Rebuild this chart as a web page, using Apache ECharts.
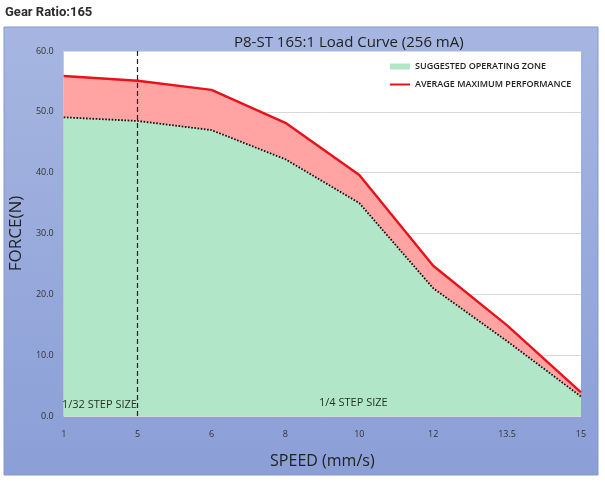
<!DOCTYPE html>
<html>
<head>
<meta charset="utf-8">
<script src="https://cdn.jsdelivr.net/npm/echarts@6/dist/echarts.min.js"></script>
<style>
html,body{margin:0;padding:0;background:#fff;}
#chart{width:605px;height:483px;}
</style>
</head>
<body>
<div id="chart"></div>
<script>
const categories = ['1','5','6','8','10','12','13.5','15'];
const maxPerformance = [55.9, 55.1, 53.6, 48.2, 39.6, 24.7, 14.9, 3.9];
const operatingZone = [49.1, 48.5, 47.0, 42.2, 35.0, 21.0, 12.3, 3.2];
const yTicks = [0, 10, 20, 30, 40, 50, 60];
const stepChangeAt = '5';

const chart = echarts.init(document.getElementById('chart'), null, {renderer: 'canvas'});
const font = "'Open Sans', 'Noto Sans', sans-serif";

chart.setOption({
  animation: false,
  backgroundColor: '#fff',
  graphic: [
    {type: 'rect', z: -10, shape: {x: 4, y: 27, width: 594, height: 448},
     style: {fill: new echarts.graphic.LinearGradient(0, 0, 0, 1, [
       {offset: 0, color: '#a6b6e1'}, {offset: 1, color: '#8b9fd7'}]),
       stroke: '#8597cf', lineWidth: 1}},
    {type: 'text', left: 5, top: 6, z: 10,
     style: {text: 'Gear Ratio:165', font: "bold 13px Roboto, 'Noto Sans', sans-serif", fill: '#2b2b2b'}},
    {type: 'text', left: 62, top: 399, z: 10,
     style: {text: '1/32 STEP SIZE', font: "11px " + font, fill: '#253525'}},
    {type: 'text', left: 319, top: 397, z: 10,
     style: {text: '1/4 STEP SIZE', font: "11px " + font, fill: '#253525'}}
  ],
  title: {
    text: 'P8-ST 165:1 Load Curve (256 mA)',
    left: 229, top: 30,
    textStyle: {fontFamily: font, fontSize: 15, fontWeight: 'normal', color: '#222'}
  },
  legend: {
    orient: 'vertical', left: 389, top: 62, padding: 0,
    itemWidth: 20, itemHeight: 6, itemGap: 9,
    textStyle: {fontFamily: font, fontSize: 9, fontWeight: 600, color: '#222'},
    data: [
      {name: 'SUGGESTED OPERATING ZONE', icon: 'rect', itemStyle: {color: '#b1e6c9', borderWidth: 0}},
      {name: 'AVERAGE MAXIMUM PERFORMANCE', itemStyle: {opacity: 0}}
    ]
  },
  grid: {left: 60, right: 24, top: 51, bottom: 67, show: true, backgroundColor: '#fff', borderWidth: 0},
  xAxis: {
    type: 'category', data: categories, boundaryGap: false,
    axisLine: {show: false}, axisTick: {show: false},
    axisLabel: {fontFamily: font, fontSize: 9, color: '#333', margin: 14},
    name: 'SPEED (mm/s)', nameLocation: 'middle', nameGap: 37,
    nameTextStyle: {fontFamily: font, fontSize: 16, color: '#222'},
    splitLine: {show: false}
  },
  yAxis: {
    type: 'value', min: yTicks[0], max: yTicks[yTicks.length - 1], interval: 10,
    axisLine: {show: false}, axisTick: {show: false},
    axisLabel: {fontFamily: font, fontSize: 9, color: '#333', margin: 10,
      formatter: v => v.toFixed(1)},
    splitLine: {lineStyle: {color: '#d9d9d9', width: 1}},
    name: 'FORCE(N)', nameLocation: 'middle', nameGap: 33,
    nameTextStyle: {fontFamily: font, fontSize: 17, color: '#222'}
  },
  series: [
    {
      name: 'AVERAGE MAXIMUM PERFORMANCE', type: 'line', data: maxPerformance,
      symbol: 'none', lineStyle: {color: '#e8121b', width: 2.4},
      itemStyle: {color: '#e8121b'},
      areaStyle: {color: '#ffa3a3', opacity: 1},
      z: 2
    },
    {
      name: 'SUGGESTED OPERATING ZONE', type: 'line', data: operatingZone,
      symbol: 'none', lineStyle: {color: '#111', width: 1.8, type: [1.6, 1.6]},
      itemStyle: {color: '#b1e6c9'},
      areaStyle: {color: '#b1e6c9', opacity: 1},
      z: 3,
      markLine: {
        silent: true, symbol: 'none', label: {show: false},
        lineStyle: {color: '#222', type: [5, 3], width: 1.2},
        data: [{xAxis: stepChangeAt}]
      }
    }
  ]
});
</script>
</body>
</html>
